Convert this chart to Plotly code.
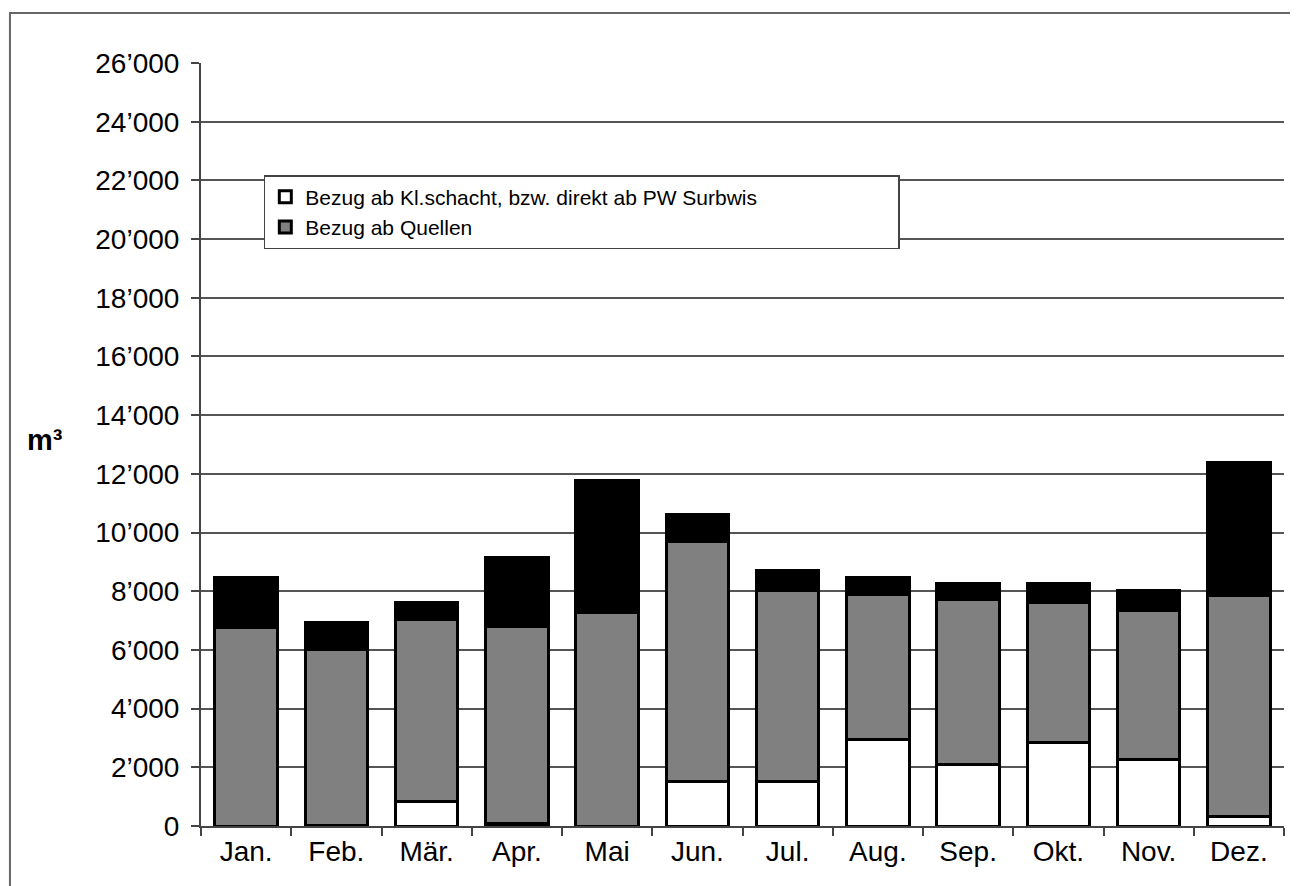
import plotly.graph_objects as go

months = ["Jan.", "Feb.", "Mär.", "Apr.", "Mai", "Jun.", "Jul.", "Aug.", "Sep.", "Okt.", "Nov.", "Dez."]
bezug_klschacht = [0, 30, 850, 100, 0, 1530, 1530, 2960, 2080, 2830, 2280, 310]
bezug_quellen = [6780, 5970, 6170, 6710, 7260, 8150, 6480, 4940, 5650, 4800, 5080, 7530]
bezug_uebrige = [1700, 950, 610, 2350, 4500, 950, 680, 580, 550, 650, 680, 4530]

tick_vals = list(range(0, 26001, 2000))
tick_text = ["0"] + [f"{v // 1000}’000" for v in tick_vals[1:]]

fig = go.Figure()
line = dict(color="black", width=3)
fig.add_trace(go.Bar(x=months, y=bezug_klschacht, name="Bezug ab Kl.schacht, bzw. direkt ab PW Surbwis",
                     marker=dict(color="white", line=line)))
fig.add_trace(go.Bar(x=months, y=bezug_quellen, name="Bezug ab Quellen",
                     marker=dict(color="#808080", line=line)))
fig.add_trace(go.Bar(x=months, y=bezug_uebrige, name="Bezug übrige", showlegend=False,
                     marker=dict(color="black", line=line)))

font_family = "Liberation Sans, Arial, Helvetica, sans-serif"
fig.update_layout(
    width=1290, height=878,
    barmode="stack", bargap=0.31,
    paper_bgcolor="white", plot_bgcolor="white",
    margin=dict(l=193, r=14, t=55, b=60),
    font=dict(family=font_family, color="black", size=28),
    legend=dict(x=0.058, y=0.853, xanchor="left", yanchor="top",
                orientation="h", entrywidth=588, entrywidthmode="pixels",
                bgcolor="white", bordercolor="#444", borderwidth=1.5,
                traceorder="normal", font=dict(family=font_family, size=21),
                itemwidth=30, tracegroupgap=0),
    xaxis=dict(showgrid=False, showline=True, linecolor="#444", linewidth=1.5,
               ticks="outside", tickson="boundaries", ticklen=8, tickcolor="#444", tickwidth=1.5,
               tickfont=dict(size=28)),
    yaxis=dict(range=[0, 26000], tickvals=tick_vals, ticktext=tick_text,
               showgrid=True, gridcolor="#555", gridwidth=1.5,
               showline=True, linecolor="#444", linewidth=2,
               ticks="outside", ticklen=8, tickcolor="#444", tickwidth=1.5,
               ticklabelstandoff=6,
               tickfont=dict(size=28), zeroline=False),
    annotations=[dict(text="<b>m³</b>", x=-0.144, y=0.506, xref="paper", yref="paper",
                      xanchor="center", yanchor="middle",
                      showarrow=False, font=dict(size=29))],
    shapes=[dict(type="path", xref="paper", yref="paper",
                 path="M 1.03 1.0655 L -0.1764 1.0655 L -0.1764 -0.1",
                 line=dict(color="#666", width=2))],
)

fig.write_html("out.html")
